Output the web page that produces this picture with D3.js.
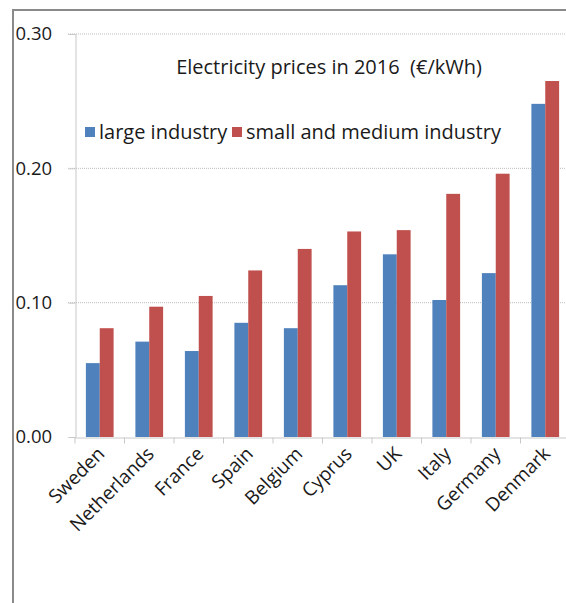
<!DOCTYPE html>
<html><head><meta charset="utf-8">
<script src="https://cdn.jsdelivr.net/npm/d3@7"></script>
<style>body{margin:0;background:#fff}svg{display:block}text{white-space:pre}</style>
</head><body>
<svg id="c" width="566" height="603"></svg>
<script>
const categories = ["Sweden","Netherlands","France","Spain","Belgium","Cyprus","UK","Italy","Germany","Denmark"];
const largeIndustry = [0.055,0.071,0.064,0.085,0.081,0.113,0.136,0.102,0.122,0.248];
const smallMediumIndustry = [0.081,0.097,0.105,0.124,0.140,0.153,0.154,0.181,0.196,0.265];
const seriesNames = ["large industry","small and medium industry"];
const yTicks = [0, 0.1, 0.2, 0.3];
const title = "Electricity prices in 2016  (€/kWh)";

const colors = ["#4F81BD","#C0504D"];
const font = "'Open Sans', sans-serif";
const svg = d3.select("#c");

// outer frame
svg.append("rect").attr("x",13).attr("y",10).attr("width",700).attr("height",700)
  .attr("fill","none").attr("stroke","#8a8a8a").attr("stroke-width",2);

const x0 = d3.scaleBand().domain(categories).range([75,570]).paddingInner(0.44).paddingOuter(0.22);
const x1 = d3.scaleBand().domain(seriesNames).range([0,x0.bandwidth()]);
const y = d3.scaleLinear().domain([0,0.3]).range([437,34]);

// gridlines
svg.append("g").selectAll("line").data(yTicks.filter(d=>d>0)).join("line")
  .attr("x1",68).attr("x2",580).attr("y1",d=>y(d)).attr("y2",d=>y(d))
  .attr("stroke","#bdbdbd").attr("stroke-width",1).attr("stroke-dasharray","1,1");

// y axis
const yAxis = d3.axisLeft(y).tickValues(yTicks).tickFormat(d3.format(".2f")).tickSize(7).tickPadding(0);
const ya = svg.append("g").attr("transform","translate(75.5,0)").call(yAxis);
ya.select(".domain").attr("stroke","#c8c8c8");
ya.selectAll(".tick line").attr("stroke","#c8c8c8");
ya.selectAll(".tick text").attr("x",-60).attr("text-anchor","start")
  .attr("font-family",font).attr("font-size",18.5).attr("fill","#1a1a1a");

// bars
const rows = categories.map((c,i)=>({c, v:[largeIndustry[i], smallMediumIndustry[i]]}));
svg.append("g").selectAll("g").data(rows).join("g")
  .attr("transform",d=>`translate(${x0(d.c)},0)`)
  .selectAll("rect").data(d=>d.v.map((v,j)=>({s:seriesNames[j], v, j}))).join("rect")
  .attr("x",d=>x1(d.s)).attr("width",x1.bandwidth())
  .attr("y",d=>y(d.v)).attr("height",d=>y(0)-y(d.v))
  .attr("fill",d=>colors[d.j]);

// x axis
const xa = svg.append("g").attr("transform",`translate(0,${y(0)+0.5})`)
  .call(d3.axisBottom(x0).tickSize(0).tickFormat(""));
xa.select(".domain").attr("stroke","#c8c8c8");
const bounds = d3.range(categories.length+1).map(i=>x0.range()[0]+i*x0.step());
xa.selectAll(".bt").data(bounds).join("line").attr("class","bt")
  .attr("x1",d=>d).attr("x2",d=>d).attr("y1",0).attr("y2",6).attr("stroke","#c8c8c8");

// x labels rotated
svg.append("g").selectAll("text").data(categories).join("text")
  .attr("transform",d=>`translate(${x0(d)+x0.bandwidth()/2+6},${y(0)+18}) rotate(-45)`)
  .attr("text-anchor","end").attr("font-family",font).attr("font-size",19).attr("fill","#1a1a1a")
  .text(d=>d);

// title
svg.append("text").attr("x",329).attr("y",74).attr("text-anchor","middle")
  .attr("font-family",font).attr("font-size",20).attr("fill","#1a1a1a").text(title);

// legend
const legX = [85, 232];
const lg = svg.append("g").selectAll("g").data(seriesNames).join("g")
  .attr("transform",(d,i)=>`translate(${legX[i]},127)`);
lg.append("rect").attr("width",10).attr("height",10).attr("fill",(d,i)=>colors[i]);
lg.append("text").attr("x",14).attr("y",12).attr("font-family",font).attr("font-size",20)
  .attr("fill","#1a1a1a").text(d=>d);
</script>
</body></html>
